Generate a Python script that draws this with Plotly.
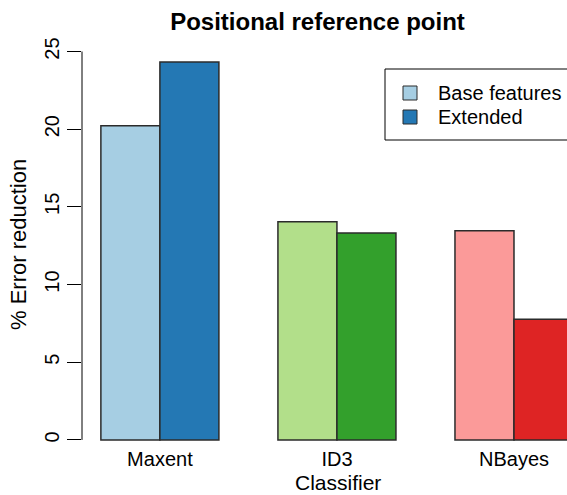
import plotly.graph_objects as go

# ---- data ----
classifiers = ["Maxent", "ID3", "NBayes"]
base_values = [20.22, 14.04, 13.46]
extended_values = [24.32, 13.31, 7.77]
series_names = ["Base features", "Extended"]
base_colors = ["#A6CEE3", "#B2DF8A", "#FB9A99"]
extended_colors = ["#2478B4", "#33A02C", "#DE2424"]
y_ticks = [0, 5, 10, 15, 20, 25]

W, H = 567, 495
ML, MR, MT, MB = 82, 0, 47, 40
PW, PH = W - ML - MR, H - MT - MB

def px_x(x):
    return (x - ML) / PW

def px_y(y):
    return (H - MB - y) / PH

FONT = "Liberation Sans, Arial, Helvetica, sans-serif"
EDGE = "#2b2b2b"

# R barplot(beside=TRUE) positions: groups of 2 bars with 1-unit gap
group_centers = [2 + 3 * i for i in range(len(classifiers))]
x_base = [c - 0.5 for c in group_centers]
x_ext = [c + 0.5 for c in group_centers]

fig = go.Figure()
fig.add_trace(go.Bar(
    x=x_base, y=base_values, width=1, name=series_names[0],
    marker=dict(color=base_colors, line=dict(color=EDGE, width=1.5)),
    showlegend=False, hoverinfo="skip",
))
fig.add_trace(go.Bar(
    x=x_ext, y=extended_values, width=1, name=series_names[1],
    marker=dict(color=extended_colors, line=dict(color=EDGE, width=1.5)),
    showlegend=False, hoverinfo="skip",
))

shapes = []
annotations = []

# y axis line (R style: only spans tick range)
shapes.append(dict(type="line", xref="paper", yref="y", x0=0, x1=0,
                   y0=y_ticks[0], y1=y_ticks[-1], line=dict(color="black", width=1)))

# legend box
shapes.append(dict(type="rect", xref="paper", yref="paper",
                   x0=px_x(385), x1=1.2, y0=px_y(140), y1=px_y(69),
                   line=dict(color="black", width=1), fillcolor="white"))
legend_colors = [base_colors[0], extended_colors[0]]
row_y = [93, 117]
for name, col, ry in zip(series_names, legend_colors, row_y):
    shapes.append(dict(type="rect", xref="paper", yref="paper",
                       x0=px_x(403), x1=px_x(417), y0=px_y(ry + 7), y1=px_y(ry - 7),
                       line=dict(color=EDGE, width=1), fillcolor=col))
    annotations.append(dict(text=name, xref="paper", yref="paper",
                            x=px_x(436), y=px_y(ry), xanchor="left", yanchor="middle",
                            showarrow=False, font=dict(family=FONT, size=20, color="black")))

# axis titles
annotations.append(dict(text="Classifier", xref="paper", yref="paper",
                        x=px_x(337.5), y=px_y(495), xanchor="center", yanchor="bottom",
                        borderpad=0, showarrow=False,
                        font=dict(family=FONT, size=21, color="black")))
annotations.append(dict(text="% Error reduction", xref="paper", yref="paper",
                        x=px_x(18), y=px_y(245), xanchor="center", yanchor="middle",
                        textangle=-90, showarrow=False,
                        font=dict(family=FONT, size=22, color="black")))

fig.update_layout(
    width=W, height=H,
    margin=dict(l=ML, r=MR, t=MT, b=MB, pad=0),
    paper_bgcolor="white", plot_bgcolor="white",
    barmode="overlay",
    font=dict(family=FONT, size=20, color="black"),
    title=dict(text="<b>Positional reference point</b>", x=317.5 / W, xanchor="center",
               y=1 - 22 / H, yanchor="middle", yref="container",
               font=dict(family=FONT, size=24, color="black")),
    xaxis=dict(range=[0.68, 1 + (W - 101) / 59], tickvals=group_centers, ticktext=classifiers,
               showline=False, zeroline=False, showgrid=False, ticks="",
               anchor="free", position=px_y(445),
               tickfont=dict(family=FONT, size=20, color="black")),
    yaxis=dict(range=[-0.973, 25.29], tickvals=y_ticks, showline=False, zeroline=False,
               showgrid=False, ticks="outside", ticklen=14, tickwidth=1, tickcolor="black",
               tickangle=-90, tickfont=dict(family=FONT, size=20, color="black")),
    shapes=shapes,
    annotations=annotations,
)

fig.write_html(
    "out.html",
    config={"displayModeBar": False, "staticPlot": True},
    post_script="document.body.style.margin='0';document.body.style.padding='0';"
                "document.body.style.overflow='hidden';",
)
